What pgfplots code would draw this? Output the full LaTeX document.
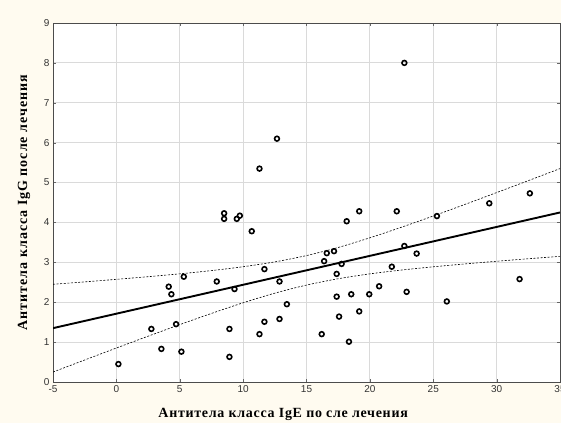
\documentclass[border=0pt]{standalone}
\usepackage{pgfplots}
\pgfplotsset{compat=1.18}
\usepackage{pgfplotstable}
\usepackage{fontspec}
\setmainfont{Liberation Serif}
\newfontfamily\ticksans{Liberation Sans}
\newfontfamily\xlabfont[LetterSpace=5]{Liberation Serif}
\newfontfamily\ylabfont[LetterSpace=7]{Liberation Serif}
\definecolor{cream}{RGB}{255,251,240}
\definecolor{gridc}{RGB}{218,218,218}

\pgfplotstableread{
x y
0.16 0.45
2.76 1.33
3.55 0.83
4.13 2.39
4.34 2.20
4.71 1.45
5.13 0.76
5.32 2.64
7.92 2.52
8.50 4.23
8.50 4.09
8.92 1.33
8.92 0.63
9.32 2.33
9.50 4.09
9.74 4.17
10.68 3.78
11.29 1.20
11.29 5.35
11.68 2.83
11.68 1.51
12.67 6.10
12.87 2.52
12.87 1.58
13.45 1.95
16.20 1.20
16.39 3.03
16.60 3.23
17.17 3.28
17.38 2.71
17.38 2.14
17.57 1.64
17.77 2.96
18.17 4.03
18.35 1.01
18.53 2.20
19.16 4.28
19.16 1.77
19.95 2.20
20.73 2.40
21.73 2.89
22.12 4.28
22.72 8.00
22.72 3.41
22.90 2.26
23.69 3.22
25.29 4.16
26.07 2.02
29.42 4.48
31.81 2.58
32.62 4.73
}\pts

\pgfplotstableread{
x lo hi
-5 0.250 2.450
-2.5 0.552 2.510
0 0.852 2.574
2.5 1.148 2.640
5 1.438 2.712
7.5 1.719 2.793
10 1.986 2.890
12.5 2.227 3.011
15 2.430 3.170
17.5 2.589 3.373
20 2.711 3.615
22.5 2.807 3.881
25 2.888 4.162
27.5 2.960 4.452
30 3.027 4.749
32.5 3.090 5.048
35 3.150 5.350
}\band

\begin{document}
\begin{tikzpicture}
\fill[cream] (-53pt,-41pt) rectangle (508pt,382pt);
\useasboundingbox (-53pt,-41pt) rectangle (508pt,382pt);
\begin{axis}[
  at={(0,0)}, anchor=south west,
  scale only axis, width=507pt, height=359pt,
  xmin=-5, xmax=35, ymin=0, ymax=9,
  xtick={-5,0,...,35}, ytick={0,1,...,9},
  grid=major, major grid style={gridc, line width=0.9pt},
  axis background/.style={fill=white},
  axis line style={black!70, line width=0.9pt},
  tick style={black!60},
  major tick length=3pt,
  tick label style={font=\ticksans\fontsize{10}{12}\selectfont, text=black!80},
  /pgf/number format/assume math mode=true,
  xlabel={Антитела класса IgE  по сле лечения},
  ylabel={Антитела класса IgG после лечения},
  xlabel style={font=\xlabfont\bfseries\fontsize{14}{16}\selectfont, at={(axis description cs:0.454,-0.1)}, anchor=base},
  ylabel style={font=\ylabfont\bfseries\fontsize{14}{16}\selectfont, at={(axis description cs:-0.051,0.5)}, anchor=base},
  clip=true,
]
\addplot[black, dash pattern=on 2pt off 1.6pt, line width=0.6pt, smooth] table[x=x, y=hi] {\band};
\addplot[black, dash pattern=on 2pt off 1.6pt, line width=0.6pt, smooth] table[x=x, y=lo] {\band};
\addplot[black, line width=1.9pt] coordinates {(-5,1.35) (35,4.25)};
\addplot[only marks, mark=o, mark size=2.4pt, mark options={line width=1.6pt, black}] table[x=x, y=y] {\pts};
\end{axis}
\end{tikzpicture}
\end{document}
